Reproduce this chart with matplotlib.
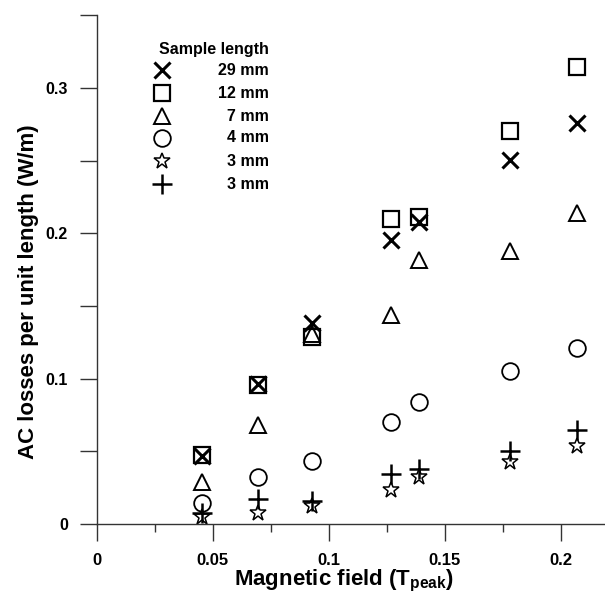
import numpy as np
import matplotlib.pyplot as plt
from matplotlib.ticker import MultipleLocator, FixedLocator, FuncFormatter

plt.rcParams['font.family'] = ['Liberation Sans', 'DejaVu Sans']
plt.rcParams['font.weight'] = 'bold'
plt.rcParams['mathtext.fontset'] = 'custom'
plt.rcParams['mathtext.rm'] = 'Liberation Sans:bold'
plt.rcParams['mathtext.bf'] = 'Liberation Sans:bold'

# magnetic field (T peak)
field = [0.0455, 0.0697, 0.0926, 0.127, 0.139, 0.178, 0.2067]

# AC losses per unit length (W/m)
loss_29mm = [0.047, 0.096, 0.138, 0.1955, 0.208, 0.2505, 0.2757]
loss_12mm = [0.0475, 0.0957, 0.129, 0.210, 0.2115, 0.2705, 0.3147]
loss_7mm = [0.029, 0.068, 0.1307, 0.1438, 0.1817, 0.188, 0.214]
loss_4mm = [0.0147, 0.0326, 0.0434, 0.0704, 0.0842, 0.1053, 0.1209]
loss_3mm_star = [0.005, 0.0078, 0.0124, 0.0234, 0.0326, 0.0425, 0.0537]
loss_3mm_plus = [0.0078, 0.017, 0.0155, 0.0345, 0.0376, 0.0505, 0.0647]

labels = ['29 mm', '12 mm', '7 mm', '4 mm', '3 mm', '3 mm']

styles = [
    dict(marker='x', ms=12, mew=2.2),
    dict(marker='s', ms=12, mew=1.6),
    dict(marker='^', ms=11, mew=1.4),
    dict(marker='o', ms=12, mew=1.3),
    dict(marker='*', ms=12, mew=1.1),
    dict(marker='+', ms=14, mew=1.8),
]
series = [loss_29mm, loss_12mm, loss_7mm, loss_4mm, loss_3mm_star, loss_3mm_plus]

fig = plt.figure(figsize=(6.05, 5.93), dpi=100)
ax = fig.add_axes([96.5 / 605, 69 / 593, 508.7 / 605, 508.6 / 593])

for vals, st in zip(series, styles):
    ax.plot(field, vals, ls='none', color='black', mfc='none', mec='black',
            clip_on=False, **st)

ax.set_xlim(0, 0.219)
ax.set_ylim(0, 0.35)

for s in ['top', 'right']:
    ax.spines[s].set_visible(False)
for s in ['left', 'bottom']:
    ax.spines[s].set_color('#333333')
    ax.spines[s].set_linewidth(1.0)

ax.xaxis.set_major_locator(MultipleLocator(0.05))
ax.xaxis.set_minor_locator(MultipleLocator(0.025))
ax.yaxis.set_major_locator(MultipleLocator(0.1))
ax.yaxis.set_minor_locator(FixedLocator([0.05, 0.15, 0.25, 0.35]))
fmt = FuncFormatter(lambda v, p: '%g' % round(v, 3))
ax.xaxis.set_major_formatter(fmt)
ax.yaxis.set_major_formatter(fmt)

ax.tick_params(which='both', direction='out', color='#333333', width=1.0)
ax.tick_params(axis='x', which='major', length=12.5, pad=8.5, labelsize=12)
ax.tick_params(axis='x', which='minor', length=6)
ax.tick_params(axis='y', which='both', length=12.5)
ax.tick_params(axis='y', which='major', pad=8, labelsize=11.5)

ax.set_xlabel(r'Magnetic field (T$_{\mathbf{peak}}$)', fontsize=16, fontweight='bold')
ax.set_ylabel('AC losses per unit length (W/m)', fontsize=16, fontweight='bold')
ax.xaxis.set_label_coords(0.487, -0.087)
ax.yaxis.set_label_coords(-0.113, 0.456)

# hand-placed legend
row_y = [0.8926, 0.8474, 0.8022, 0.759, 0.7137, 0.6685]
ax.text(0.339, 0.932, 'Sample length', transform=ax.transAxes, ha='right',
        va='center', fontsize=11.5, fontweight='bold')
for yy, lab, st in zip(row_y, labels, styles):
    ax.plot([0.1288], [yy], ls='none', color='black', mfc='none', mec='black',
            transform=ax.transAxes, clip_on=False, **st)
    ax.text(0.339, yy, lab, transform=ax.transAxes, ha='right', va='center',
            fontsize=11.5, fontweight='bold')

fig.savefig('out.png', dpi=100)
